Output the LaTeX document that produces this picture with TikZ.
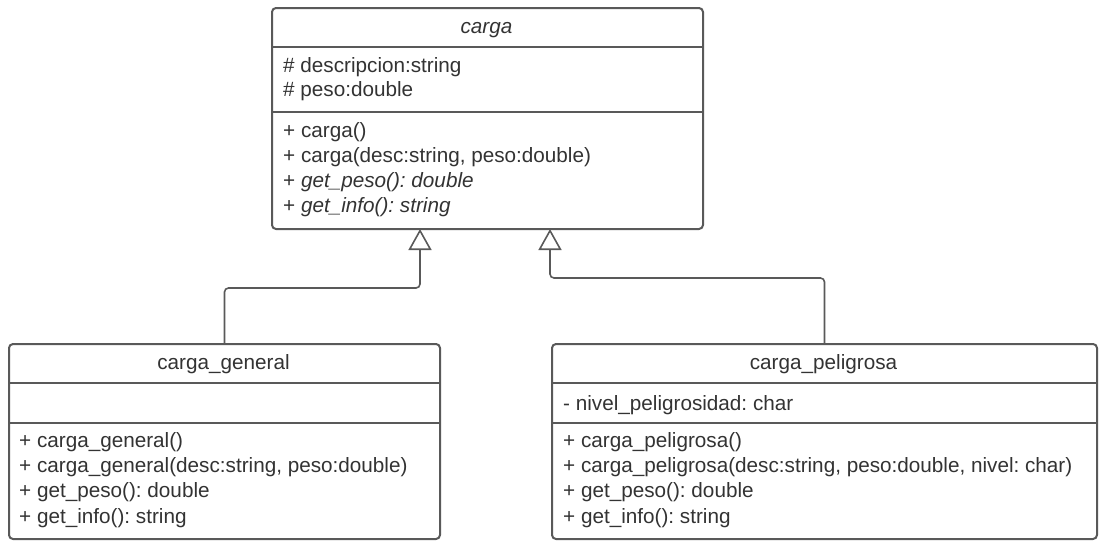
\documentclass[tikz,border=0pt]{standalone}
\usepackage{fontspec}
\setmainfont{Liberation Sans}
\usetikzlibrary{arrows.meta}
\definecolor{ln}{HTML}{595959}
\definecolor{tx}{HTML}{333333}
\tikzset{
  cls/.style={draw=ln, line width=2pt, rounded corners=4pt, fill=white, anchor=north west, inner sep=0pt},
  divl/.style={draw=ln, line width=2pt},
  txt/.style={anchor=base west, inner sep=0pt, text=tx, font=\fontsize{20.7}{24}\selectfont},
  ttl/.style={anchor=base, inner sep=0pt, text=tx, font=\fontsize{20.7}{24}\selectfont},
  conn/.style={draw=ln, line width=1.6pt, rounded corners=4pt, -{Triangle[open, length=21pt, width=23pt, line width=1.6pt]}}
}
\frenchspacing
\begin{document}
\begin{tikzpicture}[x=1pt,y=-1pt]
\useasboundingbox (0,0) rectangle (1103,546);
% top class
\node[cls, minimum width=431pt, minimum height=221pt] (carga) at (271,7) {};
\draw[divl] (271,47) -- (702,47);
\draw[divl] (271,112) -- (702,112);
\node[ttl, font=\fontsize{20.7}{24}\selectfont\itshape] (cT) at (486.5,33) {carga};
\node[txt] (ca1) at (283,72) {\# descripcion:string};
\node[txt] (ca2) at (283,96) {\# peso:double};
\node[txt] (cm1) at (283,137) {+ carga()};
\node[txt] (cm2) at (283,162) {+ carga(desc:string, peso:double)};
\node[txt] (cm3) at (283,187) {+ \textit{get\_peso(): double}};
\node[txt] (cm4) at (283,212) {+ \textit{get\_info(): string}};
% carga_general
\node[cls, minimum width=431pt, minimum height=195pt] (cg) at (8,343) {};
\draw[divl] (8,383) -- (439,383);
\draw[divl] (8,423) -- (439,423);
\node[ttl] (gT) at (223.5,369) {carga\_general};
\node[txt] (gm1) at (19,447) {+ carga\_general()};
\node[txt] (gm2) at (19,472) {+ carga\_general(desc:string, peso:double)};
\node[txt] (gm3) at (19,497) {+ get\_peso(): double};
\node[txt] (gm4) at (19,523) {+ get\_info(): string};
% carga_peligrosa
\node[cls, minimum width=545pt, minimum height=195pt] (cp) at (551,343) {};
\draw[divl] (551,383) -- (1096,383);
\draw[divl] (551,423) -- (1096,423);
\node[ttl] (pT) at (823.5,369) {carga\_peligrosa};
\node[txt] (pa1) at (563,410) {- nivel\_peligrosidad: char};
\node[txt] (pm1) at (563,447) {+ carga\_peligrosa()};
\node[txt] (pm2) at (563,472) {+ carga\_peligrosa(desc:string, peso:double, nivel: char)};
\node[txt] (pm3) at (563,497) {+ get\_peso(): double};
\node[txt] (pm4) at (563,523) {+ get\_info(): string};
% connectors
\coordinate (a1) at (420,229);
\coordinate (a2) at (550,229);
\draw[conn] (cg.north) -- (cg.north |- 0,288) -- (a1 |- 0,288) -- (a1);
\draw[conn] (cp.north) -- (cp.north |- 0,278) -- (a2 |- 0,278) -- (a2);
\end{tikzpicture}
\end{document}
